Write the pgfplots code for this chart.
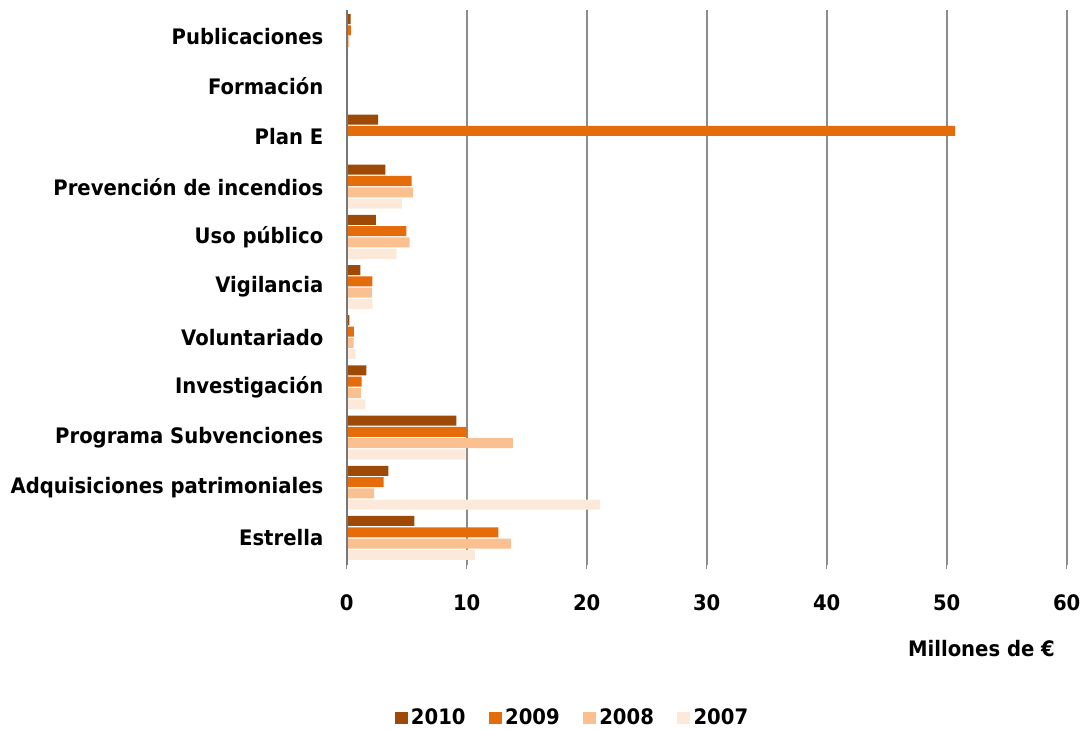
\documentclass[border=0pt]{standalone}
\usepackage{fontspec}
\setmainfont{DejaVu Sans}[FakeStretch=0.92]
\usepackage{pgfplots}
\pgfplotsset{compat=1.18}

\definecolor{c2010}{HTML}{9C4A06}
\definecolor{c2009}{HTML}{E46C0A}
\definecolor{c2008}{HTML}{FAC090}
\definecolor{c2007}{HTML}{FDE9D9}
\definecolor{gridgray}{HTML}{8C8C8C}

\begin{document}
\begin{tikzpicture}
% page = 1081 x 729 px at 0.75pt per px
\path[use as bounding box] (0,0) rectangle (810.75pt,546.75pt);
\begin{axis}[
    at={(260pt,123pt)}, anchor=south west,
    scale only axis,
    width=540pt, height=416.25pt,
    clip=false,
    xbar, bar width=0.2,
    y dir=reverse,
    xmin=0, xmax=60,
    ymin=-0.52, ymax=10.54,
    xtick={0,10,...,60},
    ytick={0,...,10},
    yticklabels={Publicaciones, Formación, Plan E, Prevención de incendios,
        Uso público, Vigilancia, Voluntariado, Investigación,
        Programa Subvenciones, Adquisiciones patrimoniales, Estrella},
    /pgf/number format/assume math mode=true,
    font=\bfseries\fontsize{16}{18}\selectfont,
    ticklabel style={font=\bfseries\fontsize{16}{18}\selectfont},
    xticklabel style={yshift=-16pt},
    yticklabel style={xshift=-11pt},
    axis y line*=left, axis x line*=bottom,
    x axis line style={draw=none},
    y axis line style={draw=none},
    xmajorgrids, major grid style={gridgray, line width=1.4pt},
    xtick style={gridgray, line width=0.8pt}, xtick align=outside,
    major tick length=3pt,
    ytick style={draw=none},
    xlabel={Millones de €},
    xlabel style={at={(rel axis cs:0.984,-0.15)}, anchor=east, inner sep=0pt},
    legend style={at={(rel axis cs:0.3145,-0.2757)}, anchor=center,
        draw=none, legend columns=4, font=\bfseries\fontsize{16}{18}\selectfont,
        /tikz/every even column/.append style={column sep=15pt},
        /tikz/every odd column/.append style={column sep=0pt},
        nodes={inner xsep=2.5pt}},
    legend image code/.code={\fill[#1, draw=none] (0cm,-0.16cm) rectangle (0.34cm,0.16cm);},
]
\addplot[fill=c2010, draw=none, bar shift=-0.3375] coordinates {
    (0.33,0) (2.63,2) (3.22,3) (2.44,4) (1.14,5) (0.22,6) (1.64,7) (9.14,8) (3.47,9) (5.64,10)};
\addplot[fill=c2009, draw=none, bar shift=-0.1125] coordinates {
    (0.35,0) (50.7,2) (5.42,3) (4.97,4) (2.14,5) (0.61,6) (1.25,7) (10.0,8) (3.08,9) (12.64,10)};
\addplot[fill=c2008, draw=none, bar shift=0.1125] coordinates {
    (0.2,0) (5.53,3) (5.25,4) (2.11,5) (0.58,6) (1.19,7) (13.86,8) (2.28,9) (13.69,10)};
\addplot[fill=c2007, draw=none, bar shift=0.3375] coordinates {
    (0.15,0) (0.08,1) (4.61,3) (4.17,4) (2.17,5) (0.75,6) (1.55,7) (9.92,8) (21.1,9) (10.69,10)};
\legend{2010,2009,2008,2007}
% vertical axis line drawn over the bars
\draw[gridgray!85!black, line width=1.3pt] (rel axis cs:0,0) -- (rel axis cs:0,1);
\end{axis}
\end{tikzpicture}
\end{document}
